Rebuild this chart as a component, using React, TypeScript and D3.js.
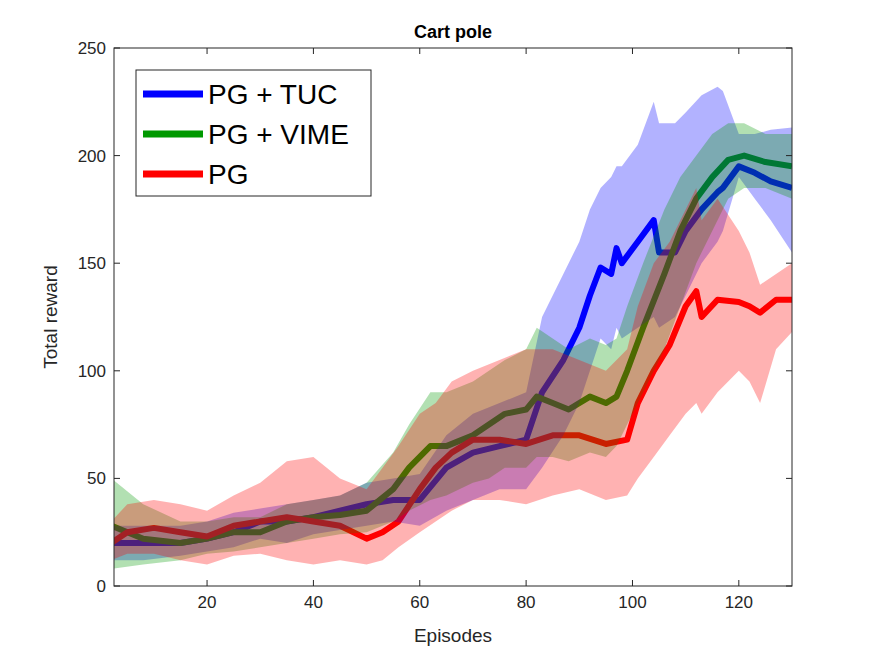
import React from 'react';
import * as d3 from 'd3';

// episode positions where values were read
const tucX = [2, 8, 15, 20, 25, 30, 35, 40, 45, 50, 55, 60, 65, 70, 75, 80, 83, 87, 90, 92, 94, 96, 97, 98, 101, 104, 105, 108, 110, 113, 116, 117, 120, 123, 126, 130];
const tucMean = [20, 20, 20, 22, 25, 30, 30, 32, 35, 38, 40, 40, 55, 62, 65, 68, 90, 105, 120, 135, 148, 145, 157, 150, 160, 170, 155, 155, 165, 175, 183, 185, 195, 192, 188, 185];
const tucLo = [12, 12, 14, 16, 18, 22, 20, 24, 26, 28, 30, 28, 35, 40, 45, 45, 55, 70, 85, 100, 115, 110, 120, 115, 120, 125, 120, 125, 135, 150, 160, 165, 190, 180, 170, 155];
const tucHi = [28, 28, 28, 30, 34, 36, 38, 40, 42, 48, 50, 52, 70, 80, 85, 90, 125, 145, 160, 175, 185, 190, 195, 195, 205, 225, 215, 215, 220, 228, 232, 230, 210, 210, 212, 213];

const vimeX = [2, 8, 15, 20, 25, 30, 35, 40, 45, 50, 55, 58, 62, 65, 70, 73, 76, 80, 82, 85, 88, 92, 95, 97, 99, 102, 106, 109, 112, 115, 118, 121, 125, 130];
const vimeMean = [28, 22, 20, 22, 25, 25, 30, 32, 33, 35, 45, 55, 65, 65, 70, 75, 80, 82, 88, 85, 82, 88, 85, 88, 100, 120, 145, 165, 180, 190, 198, 200, 197, 195];
const vimeLo = [8, 10, 12, 15, 16, 18, 20, 22, 24, 25, 30, 35, 40, 42, 48, 50, 55, 55, 60, 60, 58, 62, 60, 65, 75, 90, 110, 130, 150, 165, 180, 185, 185, 180];
const vimeHi = [50, 38, 30, 30, 32, 32, 38, 40, 42, 48, 62, 75, 90, 90, 95, 100, 105, 110, 120, 115, 110, 115, 112, 115, 130, 150, 175, 190, 200, 210, 215, 215, 210, 210];

const pgX = [2, 5, 10, 15, 20, 25, 30, 35, 40, 45, 50, 53, 56, 60, 63, 66, 70, 75, 80, 85, 90, 95, 99, 101, 104, 107, 110, 112, 113, 116, 120, 122, 124, 127, 130];
const pgMean = [20, 25, 27, 25, 23, 28, 30, 32, 30, 28, 22, 25, 30, 45, 55, 62, 68, 68, 66, 70, 70, 66, 68, 85, 100, 112, 130, 137, 125, 133, 132, 130, 127, 133, 133];
const pgLo = [12, 15, 15, 12, 10, 14, 15, 12, 10, 12, 10, 12, 18, 25, 30, 35, 40, 40, 38, 42, 45, 40, 42, 50, 60, 70, 80, 85, 80, 90, 100, 95, 85, 110, 118];
const pgHi = [30, 38, 40, 38, 35, 42, 48, 58, 60, 50, 45, 55, 65, 80, 85, 95, 100, 105, 110, 110, 105, 100, 110, 130, 150, 160, 175, 185, 170, 180, 165, 155, 140, 145, 150];

const xTicks = [20, 40, 60, 80, 100, 120];
const yTicks = [0, 50, 100, 150, 200, 250];

const series = [
  { name: 'PG + TUC', color: '#0000ff', xs: tucX, mean: tucMean, lo: tucLo, hi: tucHi },
  { name: 'PG + VIME', color: '#009900', xs: vimeX, mean: vimeMean, lo: vimeLo, hi: vimeHi },
  { name: 'PG', color: '#ff0000', xs: pgX, mean: pgMean, lo: pgLo, hi: pgHi },
];

const W = 875, H = 656;
const left = 114, right = 792, top = 48, bottom = 586;
const font = 'Liberation Sans, Arial, sans-serif';

export default function App() {
  const x = d3.scaleLinear().domain([2.5, 130]).range([left, right]);
  const y = d3.scaleLinear().domain([0, 250]).range([bottom, top]);
  const line = d3.line<[number, number]>().x(d => x(d[0])).y(d => y(d[1]));
  const area = d3.area<[number, number, number]>().x(d => x(d[0])).y0(d => y(d[1])).y1(d => y(d[2]));

  return (
    <svg width={W} height={H} style={{ position: 'absolute', left: 0, top: 0, fontFamily: font }}>
      <rect width={W} height={H} fill="#fff" />
      <defs>
        <clipPath id="plot"><rect x={left} y={top} width={right - left} height={bottom - top} /></clipPath>
      </defs>
      <g clipPath="url(#plot)">
        {series.map(s => (
          <path key={s.name + 'l'} d={line(s.xs.map((v, i) => [v, s.mean[i]]) as any) || ''}
            fill="none" stroke={s.color} strokeWidth={6} strokeLinejoin="round" />
        ))}
        {series.map(s => (
          <path key={s.name + 'a'} d={area(s.xs.map((v, i) => [v, s.lo[i], s.hi[i]]) as any) || ''}
            fill={s.color} fillOpacity={0.3} />
        ))}
      </g>
      <rect x={left} y={top} width={right - left} height={bottom - top} fill="none" stroke="#262626" strokeWidth={1} />
      {xTicks.map(t => (
        <g key={'x' + t}>
          <line x1={x(t)} x2={x(t)} y1={bottom} y2={bottom - 6} stroke="#262626" />
          <line x1={x(t)} x2={x(t)} y1={top} y2={top + 6} stroke="#262626" />
          <text x={x(t)} y={bottom + 22} textAnchor="middle" fontSize={17} fill="#262626">{t}</text>
        </g>
      ))}
      {yTicks.map(t => (
        <g key={'y' + t}>
          <line x1={left} x2={left + 6} y1={y(t)} y2={y(t)} stroke="#262626" />
          <line x1={right} x2={right - 6} y1={y(t)} y2={y(t)} stroke="#262626" />
          <text x={left - 8} y={y(t) + 6} textAnchor="end" fontSize={17} fill="#262626">{t}</text>
        </g>
      ))}
      <text x={(left + right) / 2} y={642} textAnchor="middle" fontSize={19} fill="#262626">Episodes</text>
      <text transform={`translate(57,${(top + bottom) / 2}) rotate(-90)`} textAnchor="middle" fontSize={19} fill="#262626">Total reward</text>
      <text x={(left + right) / 2} y={38} textAnchor="middle" fontSize={18} fontWeight="bold" fill="#000">Cart pole</text>
      <g>
        <rect x={136} y={70} width={235} height={126} fill="#fff" stroke="#262626" />
        {series.map((s, i) => (
          <g key={s.name + 'g'}>
            <line x1={143} x2={203} y1={94 + i * 40} y2={94 + i * 40} stroke={s.color} strokeWidth={7} />
            <text x={208} y={104 + i * 40} fontSize={28} fill="#000">{s.name}</text>
          </g>
        ))}
      </g>
    </svg>
  );
}
